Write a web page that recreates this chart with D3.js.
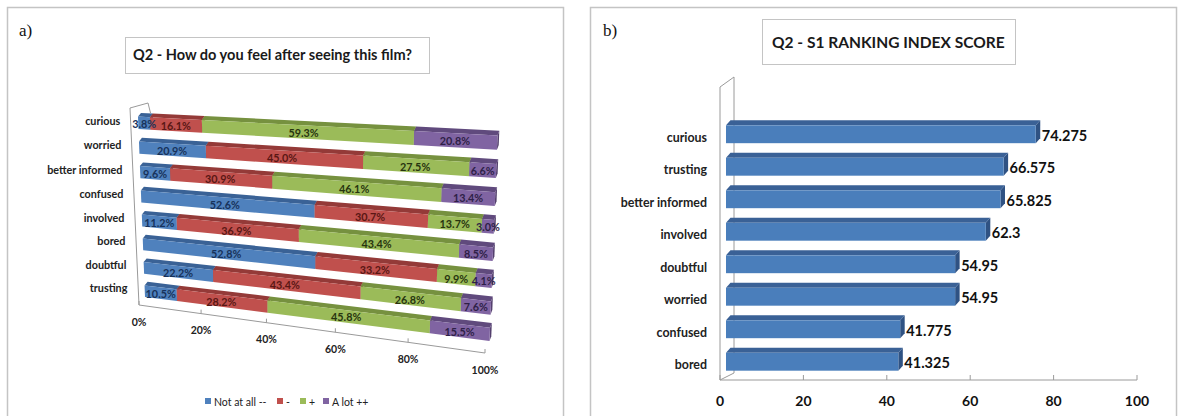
<!DOCTYPE html>
<html><head><meta charset="utf-8">
<script src="https://cdn.jsdelivr.net/npm/d3@7"></script>
<style>
html,body{margin:0;padding:0;background:#fff;}
svg{display:block;font-family:Lato,"Open Sans",sans-serif;}
</style></head><body>
<svg id="chart" width="1183" height="416"></svg>
<script>
// ---- Panel a: how respondents feel after the film (percent of answers) ----
const feelings = ["curious","worried","better informed","confused","involved","bored","doubtful","trusting"];
const notAtAll = [3.8, 20.9, 9.6, 52.6, 11.2, 52.8, 22.2, 10.5];
const minus    = [16.1, 45.0, 30.9, 30.7, 36.9, 33.2, 43.4, 28.2];
const plus     = [59.3, 27.5, 46.1, 13.7, 43.4, 9.9, 26.8, 45.8];
const aLot     = [20.8, 6.6, 13.4, 3.0, 8.5, 4.1, 7.6, 15.5];
const seriesNames = ["Not at all --", "-", "+", "A lot ++"];
const pctTicks = [0, 20, 40, 60, 80, 100];

// ---- Panel b: ranking index score ----
const rankCategories = ["curious","trusting","better informed","involved","doubtful","worried","confused","bored"];
const rankScores = [74.275, 66.575, 65.825, 62.3, 54.95, 54.95, 41.775, 41.325];
const scoreTicks = [0, 20, 40, 60, 80, 100];

const seriesColors = {
  "Not at all --": {front:"#4f81bd", top:"#3a6296", side:"#335786", text:"#17325a"},
  "-":             {front:"#c0504d", top:"#943a38", side:"#833230", text:"#5a1714"},
  "+":             {front:"#9bbb59", top:"#76913f", side:"#677f36", text:"#27340f"},
  "A lot ++":      {front:"#8064a2", top:"#604a7d", side:"#54406e", text:"#2e1f47"}
};

const svg = d3.select("#chart");
const line = d3.line();
const poly = pts => line(pts) + "Z";
const add = (p, v) => [p[0] + v[0], p[1] + v[1]];

// square-to-quad projective mapping used for the perspective drawing
function homography(p00, p10, p11, p01) {
  const [x0,y0] = p00, [x1,y1] = p10, [x2,y2] = p11, [x3,y3] = p01;
  const dx1 = x1 - x2, dx2 = x3 - x2, dx3 = x0 - x1 + x2 - x3;
  const dy1 = y1 - y2, dy2 = y3 - y2, dy3 = y0 - y1 + y2 - y3;
  const den = dx1 * dy2 - dx2 * dy1;
  const g = (dx3 * dy2 - dx2 * dy3) / den;
  const h = (dx1 * dy3 - dx3 * dy1) / den;
  const a = x1 - x0 + g * x1, b = x3 - x0 + h * x3, c = x0;
  const d = y1 - y0 + g * y1, e = y3 - y0 + h * y3, f = y0;
  return (u, v) => {
    const w = g * u + h * v + 1;
    return [(a * u + b * v + c) / w, (d * u + e * v + f) / w];
  };
}

function fitText(sel, width) {
  const size = parseFloat(sel.attr("font-size"));
  const w = sel.node().getComputedTextLength();
  sel.attr("font-size", size * width / w);
}

// ---- panel frames ----
svg.append("rect").attr("x", 7.5).attr("y", 7.5).attr("width", 556).attr("height", 430)
  .attr("fill", "none").attr("stroke", "#c4c4c4").attr("stroke-width", 1.5);
svg.append("rect").attr("x", 590.5).attr("y", 7.5).attr("width", 586).attr("height", 430)
  .attr("fill", "none").attr("stroke", "#c4c4c4").attr("stroke-width", 1.5);

svg.append("text").attr("x", 19).attr("y", 36).text("a)")
  .attr("font-family", "'Liberation Serif','DejaVu Serif',serif").attr("font-size", 17).attr("fill", "#111");
svg.append("text").attr("x", 603).attr("y", 36).text("b)")
  .attr("font-family", "'Liberation Serif','DejaVu Serif',serif").attr("font-size", 17).attr("fill", "#111");

// =================== Panel a ===================
const gA = svg.append("g");
gA.append("rect").attr("x", 125.5).attr("y", 37.5).attr("width", 304).attr("height", 36)
  .attr("fill", "#fff").attr("stroke", "#c4c4c4");
const titleA = gA.append("text").attr("x", 133).attr("y", 60).attr("font-size", 14)
  .attr("font-weight", 700).attr("fill", "#1a1a1a").text("Q2 - How do you feel after seeing this film?");
fitText(titleA, 279);

const rows = feelings.map((f, i) => ({
  feeling: f,
  "Not at all --": notAtAll[i], "-": minus[i], "+": plus[i], "A lot ++": aLot[i]
}));
const stacked = d3.stack().keys(seriesNames)(rows);

const sA = d3.scaleLinear().domain([0, 100]).range([0, 1]);
const bandA = d3.scaleBand().domain(feelings).range([0, 1]).paddingInner(0.5).paddingOuter(0);
const H = homography([138, 116.5], [497.5, 135.5], [489.5, 341], [145, 297]);
// depth offset of the bar top / end faces grows slightly toward the near (right) side
const depthAt = u => [3 - 1.2 * u, -3.6 - 1.2 * u];

// floor front edge follows the same horizontal foreshortening as the bars
const floorL = [139, 305], floorR = [485, 353];
function floorPt(u) {
  const l = H(0, 1)[0], r = H(1, 1)[0];
  const t = (H(u, 1)[0] - l) / (r - l);
  return [floorL[0] + (floorR[0] - floorL[0]) * t, floorL[1] + (floorR[1] - floorL[1]) * t];
}

// side wall outline
gA.append("path").attr("d", line([[139, 305], [130, 108], [148, 103], [150.5, 113]]))
  .attr("fill", "none").attr("stroke", "#9a9a9a").attr("stroke-width", 1);
// floor front edge with ticks
gA.append("path").attr("d", line([floorPt(0), floorPt(1)]))
  .attr("fill", "none").attr("stroke", "#9a9a9a").attr("stroke-width", 1);
pctTicks.forEach(t => {
  const p = floorPt(sA(t));
  gA.append("path").attr("d", line([p, [p[0], p[1] - 4]])).attr("stroke", "#9a9a9a").attr("fill", "none");
  gA.append("text").attr("x", p[0]).attr("y", p[1] + 16.5).attr("text-anchor", "middle")
    .attr("dominant-baseline", "central").attr("font-size", 10.5).attr("font-weight", 700)
    .attr("fill", "#222").text(t + "%");
});

// bars, one stacked segment at a time
const bw = bandA.bandwidth();
stacked.forEach(series => {
  const col = seriesColors[series.key];
  series.forEach(d => {
    const u0 = sA(d[0]), u1 = sA(d[1]);
    const v0 = bandA(d.data.feeling), v1 = v0 + bw;
    const a = H(u0, v0), b = H(u1, v0), c = H(u1, v1), e = H(u0, v1);
    const d0 = depthAt(u0), d1 = depthAt(u1);
    const g = gA.append("g");
    g.append("path").attr("d", poly([b, add(b, d1), add(c, d1), c])).attr("fill", col.side);
    g.append("path").attr("d", poly([a, b, add(b, d1), add(a, d0)])).attr("fill", col.top);
    g.append("path").attr("d", poly([a, b, c, e])).attr("fill", col.front);
  });
});
// value labels on top of all segments
stacked.forEach(series => {
  const col = seriesColors[series.key];
  series.forEach(d => {
    const u = sA((d[0] + d[1]) / 2);
    const v = bandA(d.data.feeling) + bw / 2;
    const p = H(u, v);
    gA.append("text").attr("x", p[0]).attr("y", p[1] + 0.5).attr("text-anchor", "middle")
      .attr("dominant-baseline", "central").attr("font-size", 10.8).attr("font-weight", 700)
      .attr("fill", col.text).text(d3.format(".1f")(d[1] - d[0]) + "%");
  });
});
// category labels
feelings.forEach(f => {
  const p = H(-0.058, bandA(f) + bw / 2);
  gA.append("text").attr("x", p[0]).attr("y", p[1] - 1.5).attr("text-anchor", "end")
    .attr("dominant-baseline", "central").attr("font-size", 10.8).attr("font-weight", 700)
    .attr("fill", "#222").text(f);
});

// legend
const legendX = [205, 277, 300, 323];
seriesNames.forEach((name, i) => {
  gA.append("rect").attr("x", legendX[i]).attr("y", 398).attr("width", 6).attr("height", 6)
    .attr("fill", seriesColors[name].front);
  gA.append("text").attr("x", legendX[i] + 9).attr("y", 401.5).attr("dominant-baseline", "central")
    .attr("font-size", 10.5).attr("fill", "#222").text(name);
});

// =================== Panel b ===================
const gB = svg.append("g");
gB.append("rect").attr("x", 762.5).attr("y", 19.5).attr("width", 253).attr("height", 45)
  .attr("fill", "#fff").attr("stroke", "#c4c4c4");
const titleB = gB.append("text").attr("x", 772).attr("y", 48).attr("font-size", 17)
  .attr("font-weight", 700).attr("fill", "#1a1a1a").text("Q2 - S1 RANKING INDEX SCORE");
fitText(titleB, 233);

const xB = d3.scaleLinear().domain([0, 100]).range([720, 1137]);
const yB = d3.scaleBand().domain(rankCategories).range([121, 381]).paddingInner(0.45).paddingOuter(0.225);
const shiftB = [6, -3];   // bars sit partway into the depth
const depthB = [4.5, -5]; // bar thickness in depth

// wall and floor outlines
gB.append("path").attr("d", line([[720, 380], [720, 87], [734, 77], [734, 373], [720, 380]]))
  .attr("fill", "none").attr("stroke", "#9a9a9a");
gB.append("path").attr("d", line([[xB(0), 380], [xB(100), 380]]))
  .attr("fill", "none").attr("stroke", "#9a9a9a");
scoreTicks.forEach(t => {
  gB.append("path").attr("d", line([[xB(t), 380], [xB(t), 375]])).attr("stroke", "#9a9a9a");
  gB.append("text").attr("x", xB(t)).attr("y", 406).attr("text-anchor", "middle")
    .attr("font-size", 14).attr("font-weight", 700).attr("fill", "#111").text(t);
});

rankCategories.forEach((c, i) => {
  const x0 = xB(0) + shiftB[0], x1 = xB(rankScores[i]) + shiftB[0];
  const y0 = yB(c) + shiftB[1], y1 = y0 + yB.bandwidth();
  const a = [x0, y0], b = [x1, y0], cc = [x1, y1];
  gB.append("path").attr("d", poly([b, add(b, depthB), add(cc, depthB), cc])).attr("fill", "#2f5283");
  gB.append("path").attr("d", poly([a, b, add(b, depthB), add(a, depthB)])).attr("fill", "#3a6196");
  gB.append("rect").attr("x", x0).attr("y", y0).attr("width", x1 - x0).attr("height", y1 - y0)
    .attr("fill", "#4a7ebb");
  gB.append("text").attr("x", x1 + depthB[0] + 1.5).attr("y", (y0 + y1) / 2 + 1)
    .attr("dominant-baseline", "central").attr("font-size", 14.5).attr("font-weight", 700)
    .attr("fill", "#111").text(rankScores[i]);
  gB.append("text").attr("x", 707).attr("y", yB(c) + yB.bandwidth() / 2)
    .attr("text-anchor", "end").attr("dominant-baseline", "central")
    .attr("font-size", 12.4).attr("font-weight", 700).attr("fill", "#222").text(c);
});
</script>
</body></html>
